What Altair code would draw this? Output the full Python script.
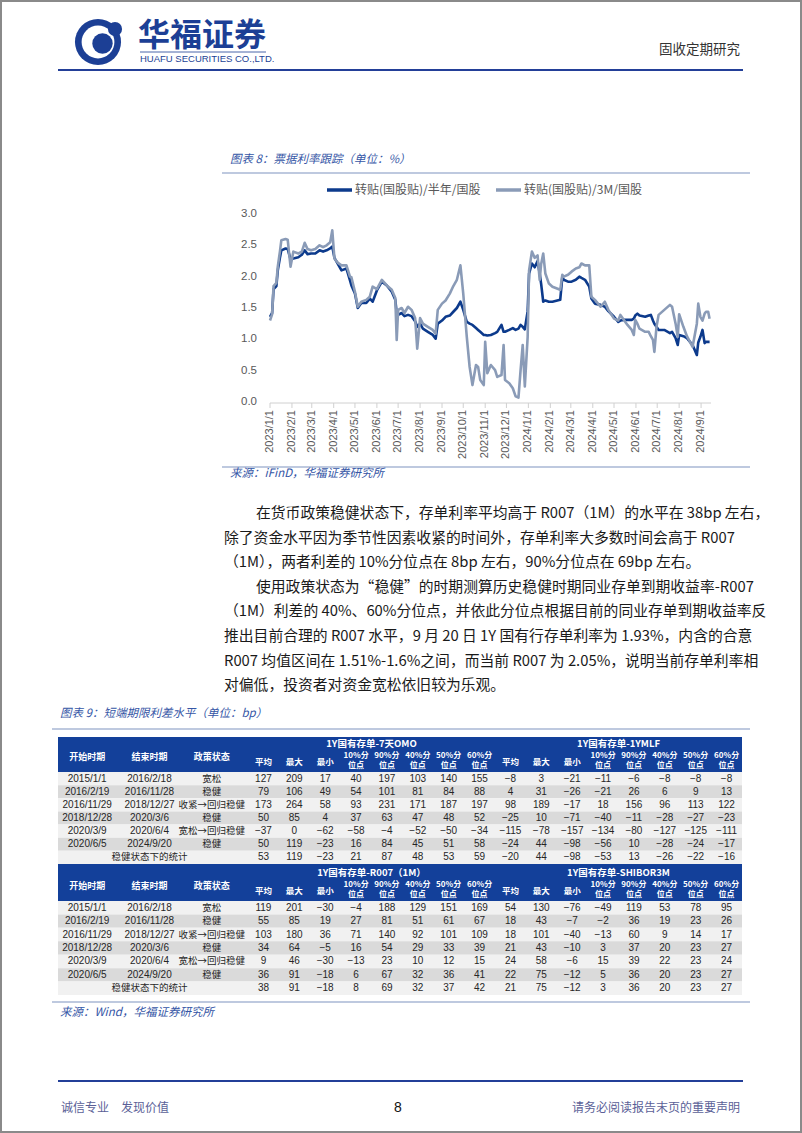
import altair as alt
import pandas as pd

W, H = 802, 1133
CJK = "Noto Sans CJK SC"
NARROW = "Liberation Sans Narrow, Liberation Sans, Noto Sans CJK SC"
BODY = "Liberation Sans Narrow, Noto Sans CJK SC"

# ---------------- chart 8 data ----------------
SERIES = ["转贴(国股贴)/半年/国股", "转贴(国股贴)/3M/国股"]
DATES = [
    "2023-01-01", "2023-01-04", "2023-01-06", "2023-01-10", "2023-01-12", "2023-01-15", "2023-01-17", "2023-01-23", "2023-01-26", "2023-01-30",
    "2023-02-03", "2023-02-10", "2023-02-15", "2023-02-19", "2023-02-23", "2023-02-28",
    "2023-03-06", "2023-03-12", "2023-03-17", "2023-03-22", "2023-03-27", "2023-03-30",
    "2023-04-02", "2023-04-07", "2023-04-12", "2023-04-19", "2023-04-24", "2023-04-26",
    "2023-05-01", "2023-05-05", "2023-05-10", "2023-05-17", "2023-05-22", "2023-05-26",
    "2023-06-01", "2023-06-08", "2023-06-15", "2023-06-22", "2023-06-27", "2023-06-29",
    "2023-07-01", "2023-07-06", "2023-07-10", "2023-07-15", "2023-07-20", "2023-07-25", "2023-07-28",
    "2023-08-01", "2023-08-05", "2023-08-12", "2023-08-19", "2023-08-23", "2023-08-26",
    "2023-09-01", "2023-09-06", "2023-09-12", "2023-09-17", "2023-09-22", "2023-09-27",
    "2023-10-01", "2023-10-06", "2023-10-10", "2023-10-14", "2023-10-19", "2023-10-22", "2023-10-25", "2023-10-30",
    "2023-11-01", "2023-11-04", "2023-11-09", "2023-11-15", "2023-11-18", "2023-11-24", "2023-11-27", "2023-11-29",
    "2023-12-05", "2023-12-10", "2023-12-14", "2023-12-18", "2023-12-21", "2023-12-24", "2023-12-27", "2023-12-31",
    "2024-01-02", "2024-01-06", "2024-01-10", "2024-01-14", "2024-01-17", "2024-01-19", "2024-01-22", "2024-01-25", "2024-01-30",
    "2024-02-04", "2024-02-15", "2024-02-18", "2024-02-20", "2024-02-26",
    "2024-03-02", "2024-03-08", "2024-03-13", "2024-03-16", "2024-03-21", "2024-03-27", "2024-03-30",
    "2024-04-04", "2024-04-12", "2024-04-18", "2024-04-23",
    "2024-05-01", "2024-05-07", "2024-05-10", "2024-05-15", "2024-05-20", "2024-05-26", "2024-05-29", "2024-05-31",
    "2024-06-03", "2024-06-06", "2024-06-14", "2024-06-19", "2024-06-22", "2024-06-25", "2024-06-27", "2024-06-30",
    "2024-07-03", "2024-07-11", "2024-07-19", "2024-07-22", "2024-07-27", "2024-07-30",
    "2024-08-01", "2024-08-07", "2024-08-12", "2024-08-20", "2024-08-26", "2024-08-28", "2024-08-31",
    "2024-09-03", "2024-09-06", "2024-09-08", "2024-09-11", "2024-09-13",
]
HALF_YEAR = [
    1.36, 1.42, 1.80, 1.85, 2.10, 2.30, 2.42, 2.45, 2.44, 2.28,
    2.29, 2.31, 2.35, 2.42, 2.36, 2.37,
    2.37, 2.42, 2.40, 2.42, 2.45, 2.48,
    2.30, 2.20, 2.10, 2.13, 1.94, 1.86,
    1.73, 1.50, 1.58, 1.58, 1.65, 1.60,
    1.78, 1.92, 1.86, 1.76, 1.63, 1.42,
    1.39, 1.42, 1.37, 1.39, 1.37, 1.29, 1.20,
    1.25, 1.17, 1.12, 1.07, 1.01, 1.25,
    1.30, 1.36, 1.38, 1.44, 1.50, 1.60,
    1.47, 1.28, 1.25, 1.23, 1.18, 1.15, 1.12, 1.07,
    1.07, 1.06, 1.07, 1.10, 1.12, 1.23, 1.12, 1.12,
    1.15, 1.18, 1.15, 1.17, 1.23, 1.20, 1.16, 1.45,
    2.05, 2.21, 2.15, 2.25, 2.05, 1.89, 1.60, 1.62, 1.60,
    1.60, 1.63, 2.00, 1.95, 1.92,
    1.92, 1.95, 2.00, 1.98, 1.95, 1.84, 1.65,
    1.57, 1.55, 1.52, 1.45,
    1.36, 1.28, 1.30, 1.31, 1.31, 1.31, 1.33, 1.38,
    1.41, 1.38, 1.36, 1.38, 1.39, 1.30, 1.25, 1.20,
    1.15, 1.15, 1.10, 1.12, 1.02, 0.91,
    1.07, 1.05, 1.02, 0.91, 0.75, 0.95, 1.04,
    1.15, 0.94, 0.96, 0.96, 0.96,
]
THREE_MONTH = [
    1.30, 1.40, 1.85, 1.90, 2.16, 2.40, 2.58, 2.60, 2.59, 2.16,
    2.40, 2.37, 2.40, 2.54, 2.44, 2.42,
    2.44, 2.50, 2.47, 2.50, 2.55, 2.74,
    2.29, 2.22, 2.18, 2.18, 2.00, 1.99,
    1.76, 1.52, 1.60, 1.63, 1.68, 1.84,
    1.80, 1.95, 1.86, 1.79, 1.66, 0.99,
    1.47, 1.50, 1.42, 1.52, 1.47, 1.34, 0.85,
    1.34, 1.25, 1.20, 1.15, 1.09, 1.47,
    1.57, 1.62, 1.73, 1.85, 1.95, 2.18,
    1.73, 1.04, 0.56, 0.27, 0.59, 0.56, 0.35, 0.27,
    0.96, 0.46, 0.59, 0.51, 0.40, 0.43, 0.91, 0.35,
    0.30, 0.22, 0.09, 0.07, 0.51, 0.91, 0.25, 1.04,
    2.10, 2.40, 2.30, 2.34, 1.95, 2.20, 2.37, 2.05, 1.89,
    1.84, 1.79, 2.03, 2.00, 2.03,
    2.08, 2.13, 2.15, 2.21, 2.18, 2.18, 1.68,
    1.63, 1.52, 1.60, 1.47,
    1.33, 1.30, 1.39, 1.31, 1.23, 1.15, 1.07, 1.31,
    1.25, 1.17, 1.12, 1.12, 1.05, 0.99, 0.80, 1.20,
    1.39, 1.47, 1.55, 1.52, 1.25, 1.04,
    1.40, 1.20, 1.05, 0.88, 1.25, 1.57, 1.36,
    1.30, 1.41, 1.44, 1.44, 1.33,
]
Y_TICKS = [0.0, 0.5, 1.0, 1.5, 2.0, 2.5, 3.0]
TICK_DATES = [
    "2023-01-01", "2023-02-01", "2023-03-01", "2023-04-01", "2023-05-01", "2023-06-01", "2023-07-01",
    "2023-08-01", "2023-09-01", "2023-10-01", "2023-11-01", "2023-12-01", "2024-01-01", "2024-02-01",
    "2024-03-01", "2024-04-01", "2024-05-01", "2024-06-01", "2024-07-01", "2024-08-01", "2024-09-01",
]
TICK_LABELS = [
    "2023/1/1", "2023/2/1", "2023/3/1", "2023/4/1", "2023/5/1", "2023/6/1", "2023/7/1",
    "2023/8/1", "2023/9/1", "2023/10/1", "2023/11/1", "2023/12/1", "2024/1/1", "2024/2/1",
    "2024/3/1", "2024/4/1", "2024/5/1", "2024/6/1", "2024/7/1", "2024/8/1", "2024/9/1",
]

# ---------------- table 9 data ----------------
T_START = ["2015/1/1", "2016/2/19", "2016/11/29", "2018/12/28", "2020/3/9", "2020/6/5"]
T_END = ["2016/2/18", "2016/11/28", "2018/12/27", "2020/3/6", "2020/6/4", "2024/9/20"]
T_POLICY = ["宽松", "稳健", "收紧→回归稳健", "稳健", "宽松→回归稳健", "稳健"]
STAT_LABEL = "稳健状态下的统计"
DESC_HEADERS = ["开始时期", "结束时期", "政策状态"]
METRICS = ["平均", "最大", "最小", "10%分\n位点", "90%分\n位点", "40%分\n位点", "50%分\n位点", "60%分\n位点"]
GROUPS = [["1Y国有存单-7天OMO", "1Y国有存单-1YMLF"], ["1Y国有存单-R007（1M）", "1Y国有存单-SHIBOR3M"]]
OMO7 = [
    [127, 209, 17, 40, 197, 103, 140, 155],
    [79, 106, 49, 54, 101, 81, 84, 88],
    [173, 264, 58, 93, 231, 171, 187, 197],
    [50, 85, 4, 37, 63, 47, 48, 52],
    [-37, 0, -62, -58, -4, -52, -50, -34],
    [50, 119, -23, 16, 84, 45, 51, 58],
    [53, 119, -23, 21, 87, 48, 53, 59],
]
MLF1Y = [
    [-8, 3, -21, -11, -6, -8, -8, -8],
    [4, 31, -26, -21, 26, 6, 9, 13],
    [98, 189, -17, 18, 156, 96, 113, 122],
    [-25, 10, -71, -40, -11, -28, -27, -23],
    [-115, -78, -157, -134, -80, -127, -125, -111],
    [-24, 44, -98, -56, 10, -28, -24, -17],
    [-20, 44, -98, -53, 13, -26, -22, -16],
]
R007 = [
    [119, 201, -30, -4, 188, 129, 151, 169],
    [55, 85, 19, 27, 81, 51, 61, 67],
    [103, 180, 36, 71, 140, 92, 101, 109],
    [34, 64, -5, 16, 54, 29, 33, 39],
    [9, 46, -30, -13, 23, 10, 12, 15],
    [36, 91, -18, 6, 67, 32, 36, 41],
    [38, 91, -18, 8, 69, 32, 37, 42],
]
SHIBOR3M = [
    [54, 130, -76, -49, 119, 53, 78, 95],
    [18, 43, -7, -2, 36, 19, 23, 26],
    [18, 101, -40, -13, 60, 9, 14, 17],
    [21, 43, -10, 3, 37, 20, 23, 27],
    [24, 58, -6, 15, 39, 22, 23, 24],
    [22, 75, -12, 5, 36, 20, 23, 27],
    [21, 75, -12, 3, 36, 20, 23, 27],
]

PARAGRAPH = [
    "在货币政策稳健状态下，存单利率平均高于 R007（1M）的水平在 38bp 左右，",
    "除了资金水平因为季节性因素收紧的时间外，存单利率大多数时间会高于 R007",
    "（1M），两者利差的 10%分位点在 8bp 左右，90%分位点在 69bp 左右。",
    "使用政策状态为“稳健”的时期测算历史稳健时期同业存单到期收益率-R007",
    "（1M）利差的 40%、60%分位点，并依此分位点根据目前的同业存单到期收益率反",
    "推出目前合理的 R007 水平，9 月 20 日 1Y 国有行存单利率为 1.93%，内含的合意",
    "R007 均值区间在 1.51%-1.6%之间，而当前 R007 为 2.05%，说明当前存单利率相",
    "对偏低，投资者对资金宽松依旧较为乐观。",
]
PARA_INDENT = [True, False, False, True, False, False, False, False]

# ---------------- styles ----------------
NAVY = "#0C3A8C"
SLATE = "#8A9BB7"
LOGO_BLUE = "#1C3F95"
HEAD_RULE = "#233F98"
TBL_BLUE = "#13409A"
CAP_BLUE = "#3556A6"
LIGHT_RULE = "#A9B7D5"
AXIS_GRAY = "#D0D0D0"
LABEL_GRAY = "#595959"

layers = []


def one():
    return pd.DataFrame({"k": [0]})


def text(s, x, y, size=12, color="#333333", align="left", font=CJK, weight="normal", style="normal", baseline="middle"):
    return alt.Chart(pd.DataFrame({"t": [s]})).mark_text(
        fontSize=size, color=color, align=align, baseline=baseline, font=font,
        fontWeight=weight, fontStyle=style,
    ).encode(x=alt.value(x), y=alt.value(y), text="t:N")


def hrule(x1, x2, y, color, w=1.0):
    return alt.Chart(one()).mark_rule(color=color, strokeWidth=w).encode(
        x=alt.value(x1), x2=alt.value(x2), y=alt.value(y))


def box(x1, x2, y1, y2, color):
    return alt.Chart(one()).mark_rect(color=color).encode(
        x=alt.value(x1), x2=alt.value(x2), y=alt.value(y1), y2=alt.value(y2))


def dot(x, y, r, color):
    return alt.Chart(one()).mark_circle(size=3.14159 * r * r, color=color, opacity=1).encode(
        x=alt.value(x), y=alt.value(y))


# ---------------- page header ----------------
layers += [
    dot(98, 42, 26, LOGO_BLUE),
    dot(98, 42, 18.5, "white"),
    dot(102.5, 43.5, 11.5, LOGO_BLUE),
    dot(115, 29, 8, LOGO_BLUE),
    text("华福证券", 138, 36, size=32, color=LOGO_BLUE, weight="bold"),
    hrule(140, 266, 52, LOGO_BLUE, 0.8),
    text("HUAFU SECURITIES CO.,LTD.", 140, 59, size=9.5, color=LOGO_BLUE, font=NARROW),
    text("固收定期研究", 740, 50, size=13.5, color="#333333", align="right"),
    hrule(58, 743, 70, HEAD_RULE, 2),
]

# ---------------- chart 8 ----------------
layers += [
    text("图表 8：票据利率跟踪（单位：%）", 230, 160, size=11.5, color=CAP_BLUE, style="italic"),
    hrule(222, 750, 173, LIGHT_RULE, 1.5),
    hrule(327, 352, 190, NAVY, 3.5),
    text(SERIES[0], 355, 190, size=12, color=LABEL_GRAY),
    hrule(496, 521, 190, SLATE, 3.5),
    text(SERIES[1], 524, 190, size=12, color=LABEL_GRAY),
]

xs = alt.Scale(
    type="utc",
    domain=[alt.DateTime(year=2023, month=1, date=1, utc=True),
            alt.DateTime(year=2024, month=9, date=15, utc=True)],
    range=[270, 711], nice=False,
)
ys = alt.Scale(domain=[0, 3], range=[402, 214], nice=False, zero=False)

line_df = pd.DataFrame({"date": DATES, "half": HALF_YEAR, "m3": THREE_MONTH})
tick_df = pd.DataFrame({"d": TICK_DATES, "lab": TICK_LABELS})
ytick_df = pd.DataFrame({"v": Y_TICKS})

layers += [
    hrule(270, 711, 403, AXIS_GRAY, 1),
    alt.Chart(tick_df).mark_rule(color=AXIS_GRAY).encode(
        x=alt.X("d:T", scale=xs, axis=None), y=alt.value(403), y2=alt.value(408)),
    alt.Chart(tick_df).mark_text(angle=270, align="right", baseline="middle", fontSize=11,
                                 color=LABEL_GRAY, font="Liberation Sans").encode(
        x=alt.X("d:T", scale=xs, axis=None), y=alt.value(410), text="lab:N"),
    alt.Chart(ytick_df).mark_text(align="right", baseline="middle", fontSize=11.5,
                                  color=LABEL_GRAY, font="Liberation Sans").encode(
        x=alt.value(257), y=alt.Y("v:Q", scale=ys, axis=None), text=alt.Text("v:Q", format=".1f")),
    alt.Chart(line_df).mark_line(color=NAVY, strokeWidth=2.6, strokeJoin="round").encode(
        x=alt.X("date:T", scale=xs, axis=None), y=alt.Y("half:Q", scale=ys, axis=None)),
    alt.Chart(line_df).mark_line(color=SLATE, strokeWidth=2.6, strokeJoin="round").encode(
        x=alt.X("date:T", scale=xs, axis=None), y=alt.Y("m3:Q", scale=ys, axis=None)),
    hrule(222, 750, 467, LIGHT_RULE, 1.5),
    text("来源：iFinD，华福证券研究所", 230, 474, size=11.5, color=CAP_BLUE, style="italic"),
]

# ---------------- paragraph ----------------
for i, (line, ind) in enumerate(zip(PARAGRAPH, PARA_INDENT)):
    layers.append(text(line, 256 if ind else 224, 514 + 24.6 * i, size=14.8, color="#1a1a1a", font=BODY))

# ---------------- table 9 ----------------
layers += [
    text("图表 9：短端期限利差水平（单位：bp）", 60, 714, size=11.5, color=CAP_BLUE, style="italic"),
    hrule(52, 750, 729, LIGHT_RULE, 1.5),
]

NUM_KEYS = [f"c{i}" for i in range(16)]
DESC_KEYS = ["start", "end", "policy"]
x_desc = alt.Scale(type="band", domain=DESC_KEYS, range=[56, 243], paddingInner=0, paddingOuter=0)
x_num = alt.Scale(type="band", domain=NUM_KEYS, range=[248, 742], paddingInner=0, paddingOuter=0)
TBL_L, TBL_R = 58, 742

# hy: descriptive headers; sy: single-line metric headers; my: first line of two-line metric headers
BLOCKS = [
    dict(top=737, bottom=772, gy=744, hy=757, sy=762, my=755.5, rows=(772, 864), left=OMO7, right=MLF1Y),
    dict(top=864, bottom=901, gy=873, hy=886, sy=891, my=884.5, rows=(901, 995), left=R007, right=SHIBOR3M),
]

for b, blk in enumerate(BLOCKS):
    ys_rows = alt.Scale(type="band", domain=list(range(7)), range=list(blk["rows"]),
                        paddingInner=0, paddingOuter=0)
    row_df = pd.DataFrame({"row": list(range(7))})
    desc = []
    for r in range(6):
        desc.append({"row": r, "col": "start", "t": T_START[r], "kind": "num"})
        desc.append({"row": r, "col": "end", "t": T_END[r], "kind": "num"})
        desc.append({"row": r, "col": "policy", "t": T_POLICY[r], "kind": "cjk"})
    desc.append({"row": 6, "col": "end", "t": STAT_LABEL, "kind": "cjk"})
    desc_df = pd.DataFrame(desc)
    nums = []
    for r in range(7):
        for j, v in enumerate(blk["left"][r] + blk["right"][r]):
            nums.append({"row": r, "col": NUM_KEYS[j], "v": v})
    num_df = pd.DataFrame(nums)
    dh_df = pd.DataFrame({"col": DESC_KEYS, "t": DESC_HEADERS})
    labels = METRICS + METRICS
    nh_df = pd.DataFrame({"col": NUM_KEYS, "t": labels, "two": ["\n" in s for s in labels]})

    layers += [
        box(TBL_L, TBL_R, blk["top"], blk["bottom"], TBL_BLUE),
        alt.Chart(row_df).mark_rect().encode(
            x=alt.value(TBL_L), x2=alt.value(TBL_R),
            y=alt.Y("row:O", scale=ys_rows, axis=None),
            color=alt.condition("datum.row % 2 == 1", alt.value("#DADADA"), alt.value("#F1F1F1")),
        ),
        text(GROUPS[b][0], (248 + 495) / 2, blk["gy"], size=9.5, color="white", weight="bold", align="center"),
        text(GROUPS[b][1], (495 + 742) / 2, blk["gy"], size=9.5, color="white", weight="bold", align="center"),
        alt.Chart(dh_df).mark_text(fontSize=9, color="white", fontWeight="bold", font=CJK,
                                   align="center", baseline="middle").encode(
            x=alt.X("col:N", scale=x_desc, axis=None), y=alt.value(blk["hy"]), text="t:N"),
        alt.Chart(nh_df).transform_filter("!datum.two").mark_text(
            fontSize=8.5, color="white", fontWeight="bold", font=CJK,
            align="center", baseline="middle").encode(
            x=alt.X("col:N", scale=x_num, axis=None), y=alt.value(blk["sy"]), text="t:N"),
        alt.Chart(nh_df).transform_filter("datum.two").mark_text(
            fontSize=8, color="white", fontWeight="bold", font=CJK,
            align="center", baseline="middle", lineBreak="\n", lineHeight=10.5).encode(
            x=alt.X("col:N", scale=x_num, axis=None), y=alt.value(blk["my"]), text="t:N"),
        alt.Chart(desc_df).transform_filter("datum.kind == 'num'").mark_text(
            fontSize=10, color="#262626", font=NARROW, align="center", baseline="middle").encode(
            x=alt.X("col:N", scale=x_desc, axis=None), y=alt.Y("row:O", scale=ys_rows, axis=None), text="t:N"),
        alt.Chart(desc_df).transform_filter("datum.kind == 'cjk'").mark_text(
            fontSize=9.5, color="#262626", font=CJK, align="center", baseline="middle").encode(
            x=alt.X("col:N", scale=x_desc, axis=None), y=alt.Y("row:O", scale=ys_rows, axis=None), text="t:N"),
        alt.Chart(num_df).mark_text(
            fontSize=10, color="#262626", font=NARROW, align="center", baseline="middle").encode(
            x=alt.X("col:N", scale=x_num, axis=None), y=alt.Y("row:O", scale=ys_rows, axis=None),
            text=alt.Text("v:Q", format="d")),
    ]

layers += [
    hrule(52, 750, 1002, LIGHT_RULE, 1.5),
    text("来源：Wind，华福证券研究所", 60, 1013, size=11.5, color=CAP_BLUE, style="italic"),
]

# ---------------- footer ----------------
layers += [
    hrule(58, 743, 1081, HEAD_RULE, 2),
    text("诚信专业\u3000发现价值", 61, 1108, size=12, color="#5B5F97"),
    text("8", 398, 1108, size=14, color="#111111", align="center", font="Liberation Sans"),
    text("请务必阅读报告末页的重要声明", 740, 1108, size=12, color="#5B5F97", align="right"),
    alt.Chart(one()).mark_rect(fillOpacity=0, stroke="#8a8a8a", strokeWidth=2).encode(
        x=alt.value(1), x2=alt.value(W - 1), y=alt.value(1), y2=alt.value(H - 1)),
]

chart = alt.layer(*layers).resolve_scale(
    x="independent", y="independent", color="independent"
).properties(
    width=W, height=H, autosize=alt.AutoSizeParams(type="none"), padding=0
).configure(background="white").configure_view(strokeOpacity=0)

chart.save("out.html", embed_options={"renderer": "svg", "actions": False})
